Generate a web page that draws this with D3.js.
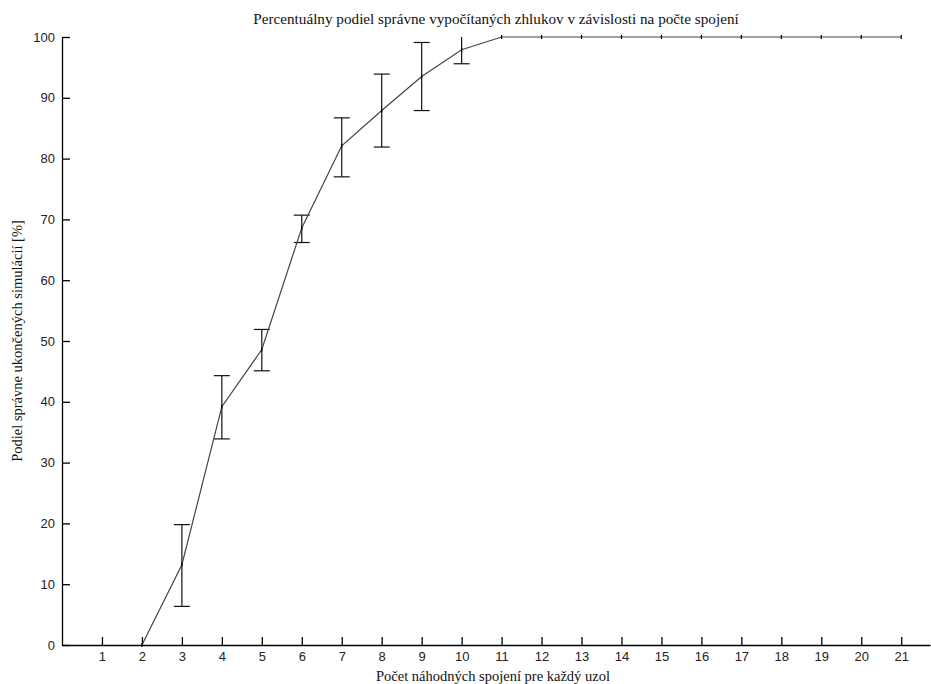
<!DOCTYPE html>
<html>
<head>
<meta charset="utf-8">
<script src="https://cdn.jsdelivr.net/npm/d3@7"></script>
<style>
  body { margin: 0; background: #fff; }
  svg { display: block; }
</style>
</head>
<body>
<div id="chart"></div>
<script>
const title = "Percentuálny podiel správne vypočítaných zhlukov v závislosti na počte spojení";
const xLabel = "Počet náhodných spojení pre každý uzol";
const yLabel = "Podiel správne ukončených simulácií [%]";

const connections = [1, 2, 3, 4, 5, 6, 7, 8, 9, 10, 11, 12, 13, 14, 15, 16, 17, 18, 19, 20, 21];
const meanPct = [0, 0, 13.2, 39.2, 48.6, 68.6, 82.1, 87.9, 93.5, 97.9, 100, 100, 100, 100, 100, 100, 100, 100, 100, 100, 100];
const lowPct = [0, 0, 6.35, 33.9, 45.1, 66.2, 77.0, 81.9, 87.9, 95.6, 100, 100, 100, 100, 100, 100, 100, 100, 100, 100, 100];
const highPct = [0, 0, 19.8, 44.3, 51.9, 70.7, 86.7, 93.9, 99.1, 100.2, 100, 100, 100, 100, 100, 100, 100, 100, 100, 100, 100];
const xTicks = d3.range(1, 22);
const yTicks = d3.range(0, 101, 10);

const W = 931, H = 684;
const margin = { top: 37, right: 1, bottom: 39, left: 62 };
const innerW = W - margin.left - margin.right;
const innerH = H - margin.top - margin.bottom;

const data = connections.map((c, i) => ({ x: c, y: meanPct[i], lo: lowPct[i], hi: highPct[i] }));

const svg = d3.select("#chart").append("svg").attr("width", W).attr("height", H);
const g = svg.append("g").attr("transform", `translate(${margin.left},${margin.top})`);

const x = d3.scaleLinear().domain([0, 21.72]).range([0, innerW]);
const y = d3.scaleLinear().domain([0, 100]).range([innerH, 0]);

svg.append("defs").append("clipPath").attr("id", "plot-clip")
  .append("rect").attr("x", 0).attr("y", 0).attr("width", innerW).attr("height", innerH);

// axes: ticks point inward, no box
const gx = g.append("g").attr("transform", `translate(0,${innerH})`)
  .call(d3.axisBottom(x).tickValues(xTicks).tickSize(-8).tickPadding(7).tickSizeOuter(0));
const gy = g.append("g")
  .call(d3.axisLeft(y).tickValues(yTicks).tickSize(-8).tickPadding(7).tickSizeOuter(0));

[gx, gy].forEach(ax => {
  ax.select(".domain").attr("stroke", "#000").attr("stroke-width", 1.3);
  ax.selectAll(".tick line").attr("stroke", "#000").attr("stroke-width", 1.3);
  ax.selectAll("text").attr("fill", "#222")
    .style("font-family", "'Liberation Sans', Arial, sans-serif").style("font-size", "13px");
});

const plot = g.append("g").attr("clip-path", "url(#plot-clip)");

// error bars
const capW = 8;
const bars = plot.selectAll(".err").data(data.filter(d => d.hi > d.lo)).join("g").attr("class", "err")
  .attr("stroke", "#111").attr("stroke-width", 1.2);
bars.append("line")
  .attr("x1", d => x(d.x)).attr("x2", d => x(d.x))
  .attr("y1", d => y(d.lo)).attr("y2", d => y(d.hi));
bars.append("line")
  .attr("x1", d => x(d.x) - capW).attr("x2", d => x(d.x) + capW)
  .attr("y1", d => y(d.lo)).attr("y2", d => y(d.lo));
bars.append("line")
  .attr("x1", d => x(d.x) - capW).attr("x2", d => x(d.x) + capW)
  .attr("y1", d => y(d.hi)).attr("y2", d => y(d.hi));

// mean line
g.append("path").datum(data.filter(d => d.x >= 2))
  .attr("fill", "none").attr("stroke", "#444").attr("stroke-width", 1.2)
  .attr("d", d3.line().x(d => x(d.x)).y(d => y(d.y)));

// small point markers
g.selectAll(".pt").data(data.filter(d => d.x >= 2)).join("line").attr("class", "pt")
  .attr("stroke", "#000").attr("stroke-width", 1.2)
  .attr("x1", d => x(d.x)).attr("x2", d => x(d.x))
  .attr("y1", d => y(d.y) - 2).attr("y2", d => y(d.y) + 2);

// labels
const serif = "'Liberation Serif', 'Times New Roman', serif";
svg.append("text").attr("x", margin.left + innerW / 2).attr("y", 24)
  .attr("text-anchor", "middle")
  .style("font-family", serif).style("font-size", "15.2px")
  .attr("fill", "#111").text(title);

svg.append("text").attr("x", 493).attr("y", 681)
  .attr("text-anchor", "middle")
  .style("font-family", serif).style("font-size", "14.5px")
  .attr("fill", "#111").text(xLabel);

svg.append("text").attr("transform", `translate(22,${margin.top + innerH / 2}) rotate(-90)`)
  .attr("text-anchor", "middle")
  .style("font-family", serif).style("font-size", "14.5px")
  .attr("fill", "#111").text(yLabel);
</script>
</body>
</html>
